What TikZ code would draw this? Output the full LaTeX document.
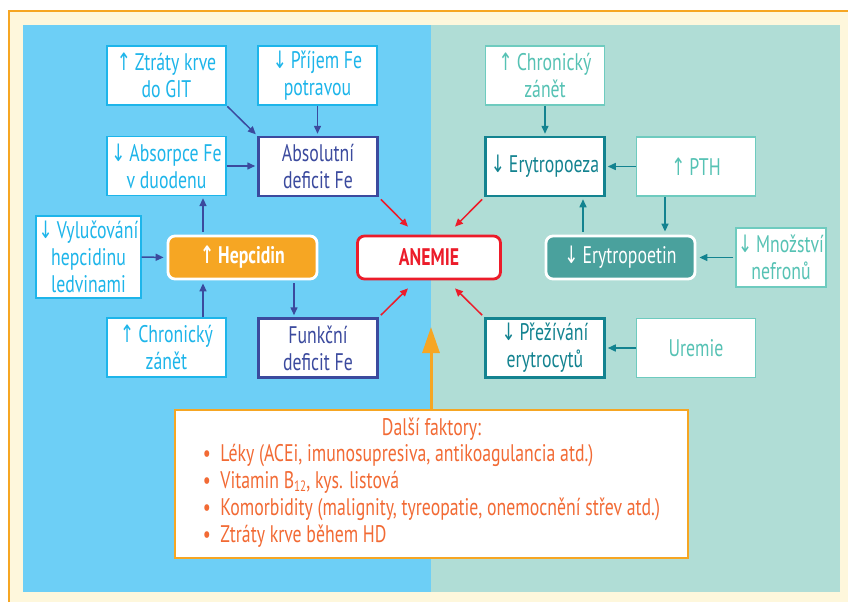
\documentclass[tikz,border=0pt]{standalone}
\usepackage{fontspec}
\setmainfont[FakeStretch=0.74]{PT Sans}
\newfontfamily\arrowfont[FakeStretch=0.7]{DejaVu Sans}
\usetikzlibrary{arrows.meta,calc,positioning}

\definecolor{cream}{HTML}{FEF7DC}
\definecolor{frameorange}{HTML}{F6A623}
\definecolor{panelblue}{HTML}{6DCFF6}
\definecolor{panelmint}{HTML}{B0DDD6}
\definecolor{cyanline}{HTML}{1DB5EA}
\definecolor{navyline}{HTML}{3B4A9E}
\definecolor{mintline}{HTML}{6ECBBF}
\definecolor{minttext}{HTML}{56C2B4}
\definecolor{petrol}{HTML}{138390}
\definecolor{epofill}{HTML}{4AA19D}
\definecolor{anemred}{HTML}{EC1C2A}
\definecolor{faktortext}{HTML}{F26A34}

\newcommand{\zvys}{{\arrowfont ↑}}
\newcommand{\pokles}{{\arrowfont ↓}}

\tikzset{
  box/.style={draw, fill=white, line width=1.3pt, minimum width=119pt,
    minimum height=59pt, align=center, inner sep=2pt,
    font=\fontsize{24}{27}\selectfont},
  cyanbox/.style={box, draw=cyanline, text=cyanline},
  navybox/.style={box, draw=navyline, text=navyline, line width=2.5pt},
  mintbox/.style={box, draw=mintline, text=minttext},
  petrolbox/.style={box, draw=petrol, text=petrol, line width=2.5pt},
  pill/.style={draw, rounded corners=7pt, line width=2.8pt, minimum width=149pt,
    minimum height=43pt, font=\fontsize{24}{27}\selectfont},
  navyarr/.style={draw=navyline, line width=1.5pt, -{Triangle[length=8pt,width=7pt]}},
  petrolarr/.style={draw=petrol, line width=1.5pt, -{Triangle[length=8pt,width=7pt]}},
  redarr/.style={draw=anemred, line width=1.5pt, -{Triangle[length=8pt,width=7pt]}}
}

\begin{document}
\begin{tikzpicture}[x=1pt,y=-1pt]
  \useasboundingbox (0,0) rectangle (848,602);
  % background
  \fill[cream] (9,11) rectangle (848,602);
  \draw[frameorange, line width=1.2pt] (9,602) -- (9,11) -- (848,11);
  \fill[panelblue] (23,25) rectangle (431,592);
  \fill[panelmint] (431,25) rectangle (840,592);

  % left half (iron)
  \node[cyanbox] (ztraty) at (166.5,75.5) {\zvys\,Ztráty krve\\do GIT};
  \node[cyanbox] (prijem) at (317.5,75.5) {\pokles\,Příjem Fe\\potravou};
  \node[cyanbox] (absorpce) at (166.5,166) {\pokles\,Absorpce Fe\\v duodenu};
  \node[navybox] (absolutni) at (318,166.5) {Absolutní\\deficit Fe};
  \node[cyanbox, minimum width=105pt, minimum height=82pt] (vylucovani) at (88.5,257)
    {\pokles\,Vylučování\\hepcidinu\\ledvinami};
  \node[pill, draw=white, fill=frameorange, text=white, font=\fontsize{24}{27}\selectfont\bfseries]
    (hepcidin) at (242.5,257.5) {\zvys\,Hepcidin};
  \node[cyanbox] (zanetL) at (166.5,347.5) {\zvys\,Chronický\\zánět};
  \node[navybox] (funkcni) at (318,348) {Funkční\\deficit Fe};

  % centre
  \node[pill, draw=anemred, fill=white, text=anemred, minimum width=143pt,
    font=\fontsize{24}{27}\selectfont\bfseries] (anemie) at (429,257.5) {ANEMIE};

  % right half (erythropoiesis)
  \node[mintbox] (zanetR) at (545,75.5) {\zvys\,Chronický\\zánět};
  \node[petrolbox] (erytropoeza) at (545,166.5) {\pokles\,Erytropoeza};
  \node[mintbox] (pth) at (696,166.5) {\zvys\,PTH};
  \node[pill, draw=white, fill=epofill, text=white] (erytropoetin) at (620.5,257.5)
    {\pokles\,Erytropoetin};
  \node[mintbox, minimum width=90pt] (nefrony) at (781,257.5) {\pokles\,Množství\\nefronů};
  \node[petrolbox] (prezivani) at (545,348) {\pokles\,Přežívání\\erytrocytů};
  \node[mintbox] (uremie) at (696,348) {Uremie};

  % other factors
  \node[draw=frameorange, fill=white, line width=2pt, minimum width=513pt,
    minimum height=148pt, align=center, text=faktortext,
    font=\fontsize{24}{27}\selectfont] (faktory) at (431.5,484)
    {Další faktory:\\[1pt]
     \begin{tabular}{@{}l@{~~}l@{}}
       \textbullet & Léky (ACEi, imunosupresiva, antikoagulancia atd.)\\
       \textbullet & Vitamin B\raisebox{-3pt}{\fontsize{15}{15}\selectfont 12}, kys. listová\\
       \textbullet & Komorbidity (malignity, tyreopatie, onemocnění střev atd.)\\
       \textbullet & Ztráty krve během HD
     \end{tabular}};

  % arrows, left
  \draw[navyarr, shorten <=1pt, shorten >=2pt] (ztraty.south east) -- (absolutni.north west);
  \draw[navyarr, shorten >=2pt] (prijem.south) -- (prijem.south |- absolutni.north);
  \draw[navyarr, shorten >=2pt] (absorpce.east) -- (absorpce.east -| absolutni.west);
  \draw[navyarr, shorten <=3pt, shorten >=2pt] ([xshift=-39.5pt]hepcidin.north)
    -- ([xshift=-39.5pt]hepcidin.north |- absorpce.south);
  \draw[navyarr, shorten >=3pt] (vylucovani.east) -- (hepcidin.west);
  \draw[navyarr, shorten >=3pt] ([xshift=-39.5pt]hepcidin.south |- zanetL.north)
    -- ([xshift=-39.5pt]hepcidin.south);
  \draw[navyarr, shorten <=3pt, shorten >=2pt] ([xshift=51.5pt]hepcidin.south)
    -- ([xshift=51.5pt]hepcidin.south |- funkcni.north);

  % arrows, right
  \draw[petrolarr, shorten >=2pt] (zanetR.south) -- (erytropoeza.north);
  \draw[petrolarr, shorten >=2pt] (pth.west) -- (erytropoeza.east);
  \draw[petrolarr, shorten <=3pt, shorten >=2pt] ([xshift=-37.5pt]erytropoetin.north)
    -- ([xshift=-37.5pt]erytropoetin.north |- erytropoeza.south);
  \draw[petrolarr, shorten >=3pt] ([xshift=44.5pt]erytropoetin.north |- pth.south)
    -- ([xshift=44.5pt]erytropoetin.north);
  \draw[petrolarr, shorten <=2pt, shorten >=3pt] (nefrony.west) -- (erytropoetin.east);
  \draw[petrolarr, shorten >=2pt] (uremie.west) -- (prezivani.east);

  % arrows into ANEMIE
  \draw[redarr, shorten <=3pt] (absolutni.south east) -- ([xshift=-21pt,yshift=8pt]anemie.north);
  \draw[redarr, shorten <=3pt] (funkcni.north east) -- ([xshift=-21pt,yshift=-8pt]anemie.south);
  \draw[redarr, shorten <=3pt] (erytropoeza.south west) -- ([xshift=26pt,yshift=8pt]anemie.north);
  \draw[redarr, shorten <=3pt] (prezivani.north west) -- ([xshift=26pt,yshift=-8pt]anemie.south);
  \draw[frameorange, line width=3pt, -{Triangle[length=26pt,width=17pt]}]
    (faktory.north -| 431,0) -- (431,327);
\end{tikzpicture}
\end{document}
